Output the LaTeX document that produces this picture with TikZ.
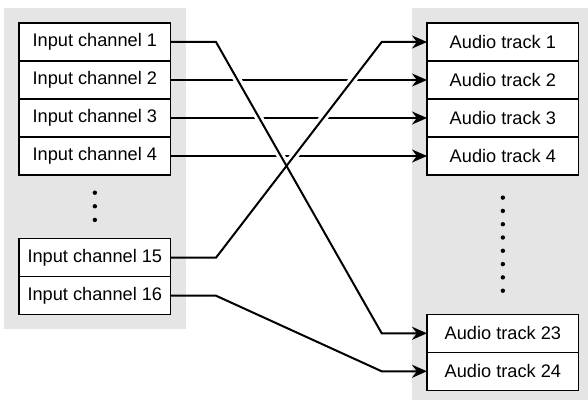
\documentclass[tikz,border=0pt]{standalone}
\usepackage{fontspec}
\setmainfont{Liberation Sans}
\usetikzlibrary{positioning,arrows.meta,calc}
\definecolor{panelgray}{HTML}{E5E5E5}
\tikzset{
  chan/.style={draw, line width=0.6pt, fill=white, minimum width=75.85pt,
    minimum height=19pt, inner sep=0pt, outer sep=0pt,
    font=\fontsize{9.1}{11}\selectfont},
  link/.style={line width=1pt, -{Stealth[length=7.5pt,width=6.5pt]}},
  halo/.style={line width=4pt, white},
  panel/.style={fill=panelgray}
}
\begin{document}
\begin{tikzpicture}[x=0.5pt,y=-0.5pt]
\useasboundingbox (0,0) rectangle (588,400);
% grey backgrounds
\fill[panel] (4,8) rectangle (186,329);
\fill[panel] (412,8) rectangle (588,400);
% input channels
\node[chan] (in1) at (94.85,42) {Input channel 1};
\node[chan, below=0pt of in1] (in2) {Input channel 2};
\node[chan, below=0pt of in2] (in3) {Input channel 3};
\node[chan, below=0pt of in3] (in4) {Input channel 4};
\node[chan] (in15) at (94.85,257.7) {Input channel 15};
\node[chan, below=0pt of in15] (in16) {Input channel 16};
% audio tracks
\node[chan] (out1) at (502.85,42) {Audio track 1};
\node[chan, below=0pt of out1] (out2) {Audio track 2};
\node[chan, below=0pt of out2] (out3) {Audio track 3};
\node[chan, below=0pt of out3] (out4) {Audio track 4};
\node[chan] (out23) at (502.85,333.3) {Audio track 23};
\node[chan, below=0pt of out23] (out24) {Audio track 24};
% dots
\foreach \i in {0,1,2}
  \fill ($(in4.south)+(0,17.7+13.6*\i)$) circle (1.1pt);
\foreach \i in {0,...,7}
  \fill ($(out4.south)+(0,22.6+13.3*\i)$) circle (1.1pt);
% straight links
\foreach \i in {2,3,4}
  \draw[link] (in\i.east) -- (out\i.west);
% crossing links
\foreach \a/\b in {in1/out23,in15/out1}
  \draw[halo] ([xshift=22.65pt]\a.east) -- ([xshift=-22.65pt]\b.west);
\foreach \a/\b in {in1/out23,in15/out1,in16/out24}
  \draw[link] (\a.east) -- ([xshift=22.65pt]\a.east)
    -- ([xshift=-22.65pt]\b.west) -- (\b.west);
\end{tikzpicture}
\end{document}
